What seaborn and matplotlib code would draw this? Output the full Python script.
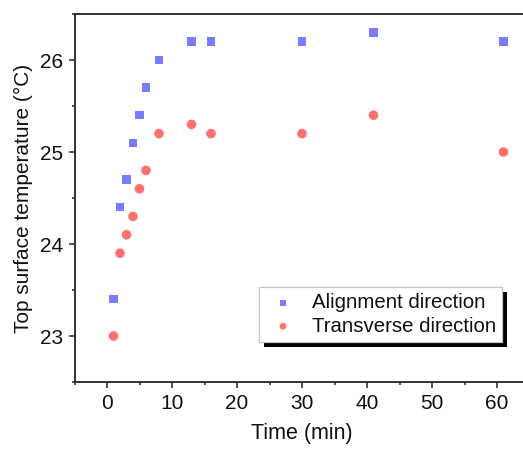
import matplotlib
matplotlib.use("Agg")
import matplotlib.pyplot as plt
from matplotlib.ticker import MultipleLocator
from matplotlib.patches import Rectangle
import seaborn as sns
import pandas as pd

time_min = [1, 2, 3, 4, 5, 6, 8, 13, 16, 30, 41, 61]
alignment = [23.4, 24.4, 24.7, 25.1, 25.4, 25.7, 26.0, 26.2, 26.2, 26.2, 26.3, 26.2]
transverse = [23.0, 23.9, 24.1, 24.3, 24.6, 24.8, 25.2, 25.3, 25.2, 25.2, 25.4, 25.0]
series_names = ["Alignment direction", "Transverse direction"]

df = pd.DataFrame({
    "Time": time_min * 2,
    "Temp": alignment + transverse,
    "Series": [series_names[0]] * len(time_min) + [series_names[1]] * len(time_min),
})

sns.set_style("ticks")
plt.rcParams["font.family"] = ["Liberation Sans", "DejaVu Sans"]

W, H = 523, 450
fig = plt.figure(figsize=(W / 100, H / 100), dpi=100)
ax = fig.add_axes([74.5 / W, (H - 382) / H, (529.5 - 74.5) / W, (382 - 14) / H])

palette = {series_names[0]: "#7b7bff", series_names[1]: "#ff7070"}
markers = {series_names[0]: "s", series_names[1]: "o"}
for name in series_names:
    sub = df[df["Series"] == name]
    sns.scatterplot(data=sub, x="Time", y="Temp", color=palette[name],
                    marker=markers[name], s=36 if name == series_names[0] else 48,
                    edgecolor="none", linewidth=0, ax=ax, label=name)

ax.set_xlim(-5, 65)
ax.set_ylim(22.5, 26.5)
ax.xaxis.set_major_locator(MultipleLocator(10))
ax.xaxis.set_minor_locator(MultipleLocator(5))
ax.yaxis.set_major_locator(MultipleLocator(1))
ax.yaxis.set_minor_locator(MultipleLocator(0.5))
ax.tick_params(which="major", direction="out", length=4.5, width=1.1, labelsize=15,
               color="#222222", labelcolor="#111111", pad=4)
ax.tick_params(which="minor", direction="out", length=2.5, width=1.1, color="#222222")
for side in ["left", "bottom", "top"]:
    ax.spines[side].set_linewidth(1.3)
    ax.spines[side].set_color("#222222")
ax.spines["right"].set_visible(False)

ax.set_xlabel("Time (min)", fontsize=15.5, labelpad=7, color="#111111")
ax.set_ylabel("Top surface temperature (°C)", fontsize=15, labelpad=5, color="#111111")

leg = ax.legend(loc="upper left", bbox_to_anchor=(259 / W, 1 - 287 / H),
                bbox_transform=fig.transFigure, fontsize=14.7,
                frameon=True, fancybox=False, shadow=False, framealpha=1,
                edgecolor="#c4c4c4", handletextpad=0.55, borderpad=0.3, labelspacing=0.22,
                handlelength=1.75, markerscale=0.7, borderaxespad=0)
leg.get_frame().set_linewidth(0.9)
for t in leg.get_texts():
    t.set_color("#111111")

# shadow behind the legend frame
fig.canvas.draw()
bb = leg.get_frame().get_window_extent(fig.canvas.get_renderer())
inv = ax.transAxes.inverted()
(x0, y0) = inv.transform((bb.x0 + 5, bb.y0 - 5))
(x1, y1) = inv.transform((bb.x1 + 5, bb.y1 - 5))
ax.add_patch(Rectangle((x0, y0), x1 - x0, y1 - y0, transform=ax.transAxes,
                       facecolor="black", edgecolor="none", zorder=4.9, clip_on=False))

fig.savefig("out.png", dpi=100)
